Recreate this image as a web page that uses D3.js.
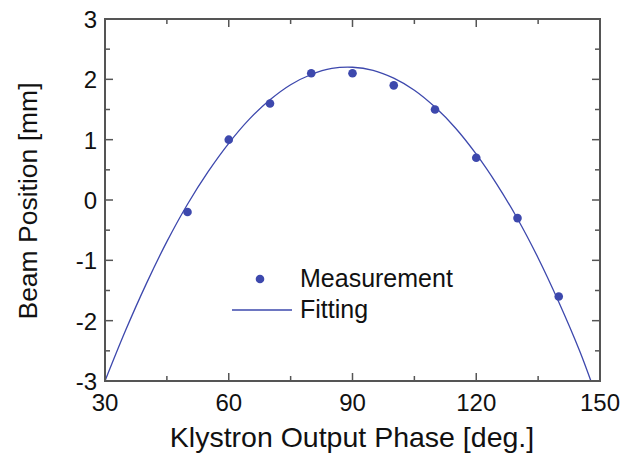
<!DOCTYPE html>
<html>
<head>
<meta charset="utf-8">
<script src="https://cdn.jsdelivr.net/npm/d3@7"></script>
<style>
  body { margin: 0; background: #fff; }
  text { font-family: "Liberation Sans", Arial, sans-serif; fill: #111; }
</style>
</head>
<body>
<div id="chart"></div>
<script>
var width = 636;
var height = 454;

// measured points
var measPhase = [50, 60, 70, 80, 90, 100, 110, 120, 130, 140];
var measPos = [-0.2, 1.0, 1.6, 2.1, 2.1, 1.9, 1.5, 0.7, -0.3, -1.6];

// fitted curve
var fitPhase = [30, 35, 40, 45, 50, 55, 60, 65, 70, 75, 80, 85, 90, 95, 100, 105, 110, 115, 120, 125, 130, 135, 140, 145, 147.8];
var fitPos = [-3.0, -2.16, -1.39, -0.69, -0.07, 0.47, 0.94, 1.34, 1.66, 1.91, 2.08, 2.18, 2.2, 2.15, 2.02, 1.82, 1.54, 1.19, 0.76, 0.26, -0.31, -0.96, -1.69, -2.49, -3.0];

var xTicks = [30, 60, 90, 120, 150];
var yTicks = [-3, -2, -1, 0, 1, 2, 3];

var blue = '#3d48ad';
var frame = '#555';

var svg = d3.select('#chart')
  .append('svg')
  .attr('width', width)
  .attr('height', height);

var x = d3.scaleLinear().domain([30, 150]).range([105, 600]);
var y = d3.scaleLinear().domain([-3, 3]).range([381, 19]);

// minor ticks every half step
var xMinor = d3.range(45, 150, 30);
var yMinor = d3.range(-2.5, 3, 1);

var g = svg.append('g');

// inward ticks on all four sides
function tickLines(vals, len) {
  vals.forEach(v => {
    g.append('line').attr('x1', x(v)).attr('x2', x(v)).attr('y1', y(-3)).attr('y2', y(-3) - len);
    g.append('line').attr('x1', x(v)).attr('x2', x(v)).attr('y1', y(3)).attr('y2', y(3) + len);
  });
}
function tickLinesY(vals, len) {
  vals.forEach(v => {
    g.append('line').attr('x1', x(30)).attr('x2', x(30) + len).attr('y1', y(v)).attr('y2', y(v));
    g.append('line').attr('x1', x(150)).attr('x2', x(150) - len).attr('y1', y(v)).attr('y2', y(v));
  });
}
tickLines(xTicks, 8);
tickLines(xMinor, 5);
tickLinesY(yTicks, 8);
tickLinesY(yMinor, 5);
g.selectAll('line').attr('stroke', frame).attr('stroke-width', 1.5);

// fit line
var line = d3.line()
  .x((d, i) => x(fitPhase[i]))
  .y(d => y(d))
  .curve(d3.curveCatmullRom);

svg.append('path')
  .attr('d', line(fitPos))
  .attr('fill', 'none')
  .attr('stroke', blue)
  .attr('stroke-width', 1.3);

// points
svg.selectAll('circle.pt')
  .data(measPos)
  .enter()
  .append('circle')
  .attr('class', 'pt')
  .attr('cx', (d, i) => x(measPhase[i]))
  .attr('cy', d => y(d))
  .attr('r', 4.3)
  .attr('fill', blue);

// frame
svg.append('rect')
  .attr('x', x(30)).attr('y', y(3))
  .attr('width', x(150) - x(30)).attr('height', y(-3) - y(3))
  .attr('fill', 'none')
  .attr('stroke', frame)
  .attr('stroke-width', 2);

// tick labels
svg.selectAll('text.xt')
  .data(xTicks)
  .enter()
  .append('text')
  .attr('x', d => x(d))
  .attr('y', 411)
  .attr('text-anchor', 'middle')
  .style('font-size', '24px')
  .text(d => d);

svg.selectAll('text.yt')
  .data(yTicks)
  .enter()
  .append('text')
  .attr('x', 97)
  .attr('y', d => y(d) + 9)
  .attr('text-anchor', 'end')
  .style('font-size', '24px')
  .text(d => d);

// axis titles
svg.append('text')
  .attr('x', 352)
  .attr('y', 447)
  .attr('text-anchor', 'middle')
  .style('font-size', '28.5px')
  .text('Klystron Output Phase [deg.]');

svg.append('text')
  .attr('transform', 'translate(37,201) rotate(-90)')
  .attr('text-anchor', 'middle')
  .style('font-size', '26.5px')
  .text('Beam Position [mm]');

// legend
svg.append('circle')
  .attr('cx', 260).attr('cy', 279).attr('r', 4.3).attr('fill', blue);
svg.append('text')
  .attr('x', 300).attr('y', 287)
  .style('font-size', '25px')
  .text('Measurement');
svg.append('line')
  .attr('x1', 232).attr('x2', 292).attr('y1', 310).attr('y2', 310)
  .attr('stroke', blue).attr('stroke-width', 1.3);
svg.append('text')
  .attr('x', 300).attr('y', 318)
  .style('font-size', '25px')
  .text('Fitting');
</script>
</body>
</html>
